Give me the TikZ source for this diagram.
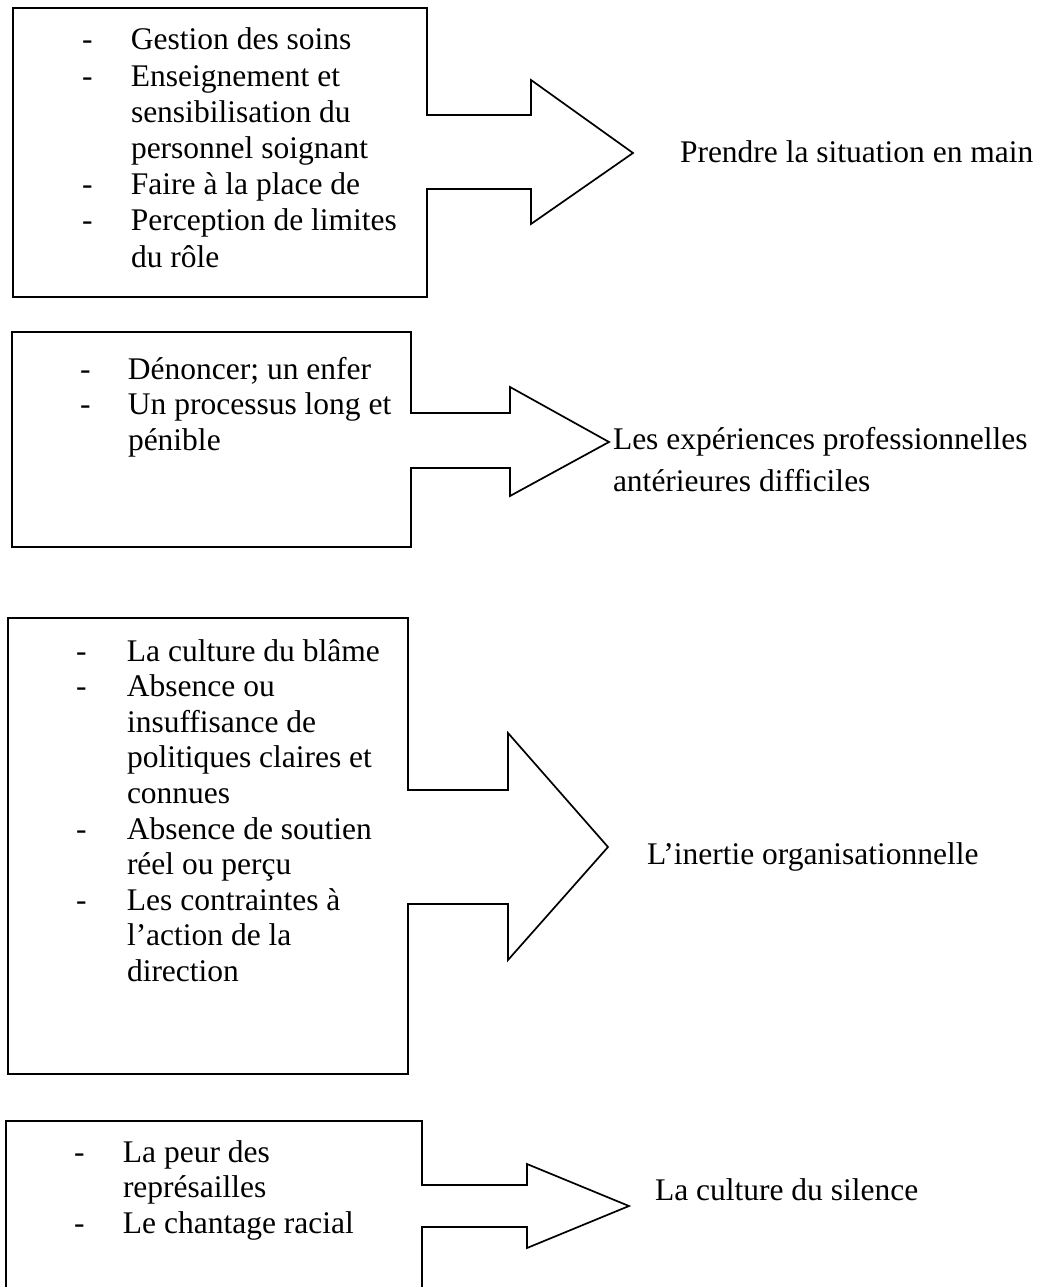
\documentclass[tikz,border=0pt]{standalone}
\usepackage{fontspec}
\setmainfont{Liberation Serif}
\begin{document}
\begin{tikzpicture}[x=1pt,y=-1pt,
  shapeline/.style={draw=black, line width=1.7pt, line join=miter},
  txt/.style={anchor=base west, inner sep=0pt, outer sep=0pt, font=\fontsize{31.5}{36.2}\selectfont},
  txtb/.style={txt, font=\fontsize{31.5}{35.6}\selectfont},
]
\clip (0,0) rectangle (1049,1287);
\fill[white] (0,0) rectangle (1049,1287);

% shape 1
\draw[shapeline] (13,8) -- (427,8) -- (427,115) -- (531,115) -- (531,80) -- (633,153)
  -- (531,224) -- (531,189) -- (427,189) -- (427,297) -- (13,297) -- cycle;
% shape 2
\draw[shapeline] (12,332) -- (411,332) -- (411,413) -- (510,413) -- (510,387) -- (609,442)
  -- (510,496) -- (510,468) -- (411,468) -- (411,547) -- (12,547) -- cycle;
% shape 3
\draw[shapeline] (8,618) -- (408,618) -- (408,790) -- (508,790) -- (508,733) -- (608,847)
  -- (508,960) -- (508,904) -- (408,904) -- (408,1074) -- (8,1074) -- cycle;
% shape 4 (runs off the page)
\draw[shapeline] (6,1295) -- (6,1121) -- (422,1121) -- (422,1185) -- (527,1185) -- (527,1164)
  -- (629,1206) -- (527,1248) -- (527,1227) -- (422,1227) -- (422,1295);

% box texts
\node[txt] (b1) at (82,50) {\begin{tabular}[t]{@{}l@{}l@{}}
\makebox[49pt][l]{-}&Gestion des soins\\
-&Enseignement et\\
&sensibilisation du\\
&personnel soignant\\
-&Faire à la place de\\
-&Perception de limites\\
&du rôle
\end{tabular}};

\node[txtb] (b2) at (80,379) {\begin{tabular}[t]{@{}l@{}l@{}}
\makebox[48pt][l]{-}&Dénoncer; un enfer\\
-&Un processus long et\\
&pénible
\end{tabular}};

\node[txtb] (b3) at (76,661) {\begin{tabular}[t]{@{}l@{}l@{}}
\makebox[51pt][l]{-}&La culture du blâme\\
-&Absence ou\\
&insuffisance de\\
&politiques claires et\\
&connues\\
-&Absence de soutien\\
&réel ou perçu\\
-&Les contraintes à\\
&l’action de la\\
&direction
\end{tabular}};

\node[txtb] (b4) at (74,1162) {\begin{tabular}[t]{@{}l@{}l@{}}
\makebox[49pt][l]{-}&La peur des\\
&représailles\\
-&Le chantage racial
\end{tabular}};

% right labels
\node[txt] (l1) at (680,162) {Prendre la situation en main};
\node[txt] (l2) at (613,449) {\begin{tabular}[t]{@{}l@{}}
Les expériences professionnelles\\[6pt]
antérieures difficiles
\end{tabular}};
\node[txt] (l3) at (647,864) {L’inertie organisationnelle};
\node[txt] (l4) at (655,1200) {La culture du silence};
\end{tikzpicture}
\end{document}
